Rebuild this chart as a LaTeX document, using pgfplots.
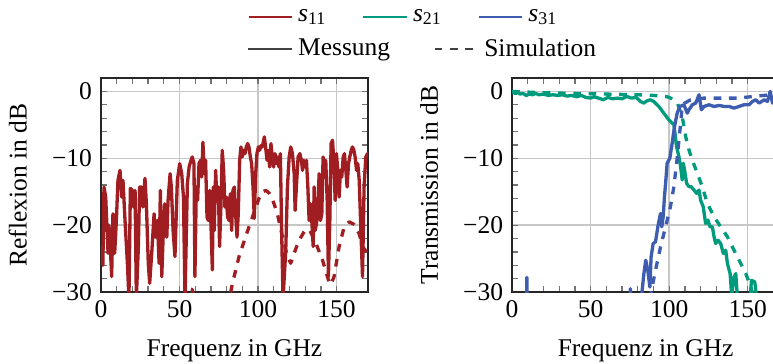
\documentclass[border=0pt]{standalone}
\usepackage{fontspec}
\setmainfont{Liberation Serif}
\usepackage{pgfplots}
\pgfplotsset{compat=1.18}

\definecolor{cRed}{RGB}{160,30,34}
\definecolor{cTeal}{RGB}{0,155,125}
\definecolor{cBlue}{RGB}{63,93,176}

\pgfplotsset{
  sparam/.style={
    scale only axis,
    width=104.7pt, height=83.9pt,
    xmin=0, xmax=170, ymin=-30, ymax=2,
    xtick={0,50,100,150},
    ytick={-30,-20,-10,0},
    yticklabels={−30,−20,−10,0},
    minor x tick num=4, minor y tick num=4,
    grid=major,
    major grid style={black!22, line width=0.6pt},
    axis line style={black!85, line width=0.9pt},
    tick style={black!55, line width=0.5pt},
    major tick length=2.5pt, minor tick length=2.5pt,
    /pgf/number format/assume math mode=true,
    xlabel={Frequenz in GHz},
    xlabel shift=1.5pt, ylabel shift=3pt,
    every axis plot/.append style={line width=1.3pt, line join=round},
    legend image post style={line width=0.8pt},
  },
}

\begin{document}
\begin{tikzpicture}
% --- Reflexion ---
\begin{axis}[sparam,
  ylabel={Reflexion in dB},
  legend columns=3,
  legend style={draw=none, fill=none, inner sep=0pt, anchor=west,
    at={(0.547,1.285)},
    /tikz/every even column/.append style={column sep=12pt}},
]
\addplot[cRed] coordinates {
(0,-25) (0.5,-23.2) (1.2,-26) (1.9,-14.3) (3,-15.8) (4.5,-24.2) (5,-20) (6.2,-24.7)
(6.8,-27.7) (7.6,-18.3) (8.7,-24.2) (9.8,-19.3) (10.8,-13.3) (12.1,-11.8) (13.2,-15.8)
(14,-13.3) (15.3,-19.3) (16.8,-25.7) (17.8,-31) (18.7,-14.5) (20,-14.8) (20.8,-17.3)
(21.7,-14.8) (22.5,-31) (23.8,-23.2) (24.6,-14.3) (25.9,-14.3) (26.7,-17.3) (28,-13)
(28.9,-16.8) (30.1,-25.7) (31,-28.7) (32.3,-24.2) (33.8,-18.3) (34.8,-21.8) (35.9,-19.3)
(37,-25.7) (37.8,-14.8) (38.7,-27.7) (39.7,-20.8) (40.6,-16.8) (41.9,-21.8) (42.7,-16.3)
(44,-12.3) (44.8,-14.3) (45.9,-20.8) (47.1,-24.7) (48.6,-13.3) (50.1,-10.8) (51.4,-12.3)
(52.5,-15.8) (53.5,-31) (55,-13.8) (56.1,-11.3) (57.3,-10.3) (58.1,-9.8) (59.2,-10.8)
(59.8,-27.7) (60.7,-14.3) (61.5,-16.3) (62.4,-10.8) (63.4,-10.3) (64.1,-12.8) (64.9,-7.6)
(65.8,-12.3) (66.6,-10.3) (67.5,-18.8) (68.3,-19.3) (69.2,-14.8) (70,-19.8) (70.9,-26.7)
(71.5,-14.3) (72.1,-20.8) (73,-11.8) (73.8,-16.3) (74.7,-14.3) (75.5,-23.2) (76.4,-16.8)
(77.2,-8.8) (78.1,-11.8) (78.9,-17.3) (79.8,-15.8) (80.6,-18.8) (81.5,-19.3) (82.3,-15.3)
(83.2,-20.8) (84,-14.8) (84.9,-14.3) (85.7,-18.3) (86.6,-21.8) (87.4,-18.3) (88.3,-10.3)
(89.1,-8.3) (90,-9.8) (90.8,-8.8) (91.7,-9.3) (92.5,-8.3) (93.4,-7.8) (94.2,-8.3)
(95.1,-9.8) (95.9,-10.8) (96.8,-14.3) (97.6,-19) (98.5,-12.3) (99.3,-9.3) (100.2,-8.3)
(101,-8.8) (101.9,-8.1) (102.7,-8.3) (104,-6.8) (104.8,-8.3) (105.7,-10.3) (106.5,-8.8)
(107.4,-11.3) (108.2,-7.8) (109.1,-9.8) (109.9,-11.3) (110.8,-9.3) (111.6,-10.8)
(112.5,-9.8) (113.3,-11.3) (114.2,-9.3) (115,-20.8) (115.9,-31) (117.6,-24) (118.7,-14.3)
(119.8,-9.8) (120.8,-8.3) (121.9,-9.3) (123,-12.3) (123.6,-17.8) (124.4,-14.3) (125.5,-9.8)
(126.6,-9.3) (127.6,-10.3) (128.3,-11.8) (129.1,-10.3) (130,-11.3) (130.8,-10.3)
(131.7,-14.3) (132.5,-19.3) (133.4,-16.8) (134.2,-19.3) (135.1,-23.2) (135.7,-14.3)
(136.3,-20.8) (137.2,-19.8) (138,-17.3) (138.9,-12.3) (139.7,-19.3) (140.6,-18.3)
(141.4,-9.8) (142.3,-11.3) (143.1,-10.3) (144,-16.3) (144.8,-27.7) (145.7,-19.3)
(146.5,-7.8) (147.4,-7.3) (148.2,-10.3) (149.1,-16.3) (149.9,-9.3) (150.8,-11.8)
(151.6,-15.8) (152.5,-11.8) (153.3,-12.8) (154.2,-9.8) (155,-9.3) (155.9,-11.8)
(156.7,-14.3) (157.6,-10.8) (158.4,-9.8) (159.3,-8.8) (160.1,-8.3) (161,-8.8) (161.8,-9.8)
(162.7,-11.8) (163.5,-10.8) (164.4,-13.3) (165.4,-20.3) (166.5,-27.7) (167.5,-14.3)
(168.6,-9.8) (169.7,-9.3) (170,-9.5)
};
\addlegendentry{\textit{s}\textsubscript{11}}
\addplot[cRed, dashed, forget plot] coordinates {
(50,-36) (56,-29.6) (58,-29.6) (64,-36) (78,-36) (82.6,-30) (83.7,-28.7) (87.9,-24.7)
(92.1,-21.7) (96.4,-18.8) (100.6,-16) (103,-15) (105,-14.8) (107,-15.2) (109,-16)
(112.3,-18.3) (115.5,-21.7) (118.7,-24.7) (120.8,-25.7) (123,-24.2) (126,-22.3)
(129.3,-21) (131,-20.6) (133,-20.8) (136.8,-22.7) (141,-25.2) (144.8,-28.2) (146.3,-28.9)
(148.4,-27.7) (151.6,-23.2) (154.8,-20.3) (158,-19.5) (161.2,-19.9) (164.4,-21.3)
(166.5,-23.2) (169,-24) (170,-24.3)
};
\addlegendimage{cTeal}
\addlegendentry{\textit{s}\textsubscript{21}}
\addlegendimage{cBlue}
\addlegendentry{\textit{s}\textsubscript{31}}
\end{axis}

% --- Transmission ---
\begin{axis}[sparam, at={(161.2pt,0pt)},
  ylabel={Transmission in dB},
  legend columns=2,
  legend style={draw=none, fill=none, inner sep=0pt, anchor=west,
    at={(-0.993,1.135)},
    /tikz/every even column/.append style={column sep=15pt}},
]
\addplot[cTeal, forget plot] coordinates {
(0,0) (2,-0.3) (4,-0.2) (5,-0.4) (7,-0.3) (9,-0.6) (11,-0.4) (13,-0.5) (15,-0.3)
(17,-0.5) (20,-0.4) (23,-0.6) (26,-0.5) (29,-0.6) (32,-0.5) (35,-0.7) (38,-0.6) (41,-0.8)
(44,-0.6) (47,-0.9) (50,-1) (52,-0.8) (55,-1) (58,-1.25) (61,-0.9) (64,-1.1) (67,-1)
(70,-1.1) (73,-0.75) (76,-1) (79,-0.9) (81.7,-1.5) (83.8,-1.75) (86,-1.4) (88.1,-1.25)
(90.2,-1.5) (93.4,-2.25) (96.6,-3.25) (99.8,-4.25) (101.9,-4.75) (103,-4.9) (104.7,-8.25)
(106.2,-9.75) (107.3,-11.25) (108.3,-13.25) (109,-10.75) (109.8,-11.75) (111.1,-13.75)
(112.6,-14.25) (114.1,-14.25) (115.8,-14.75) (117.5,-15.25) (119,-14.75) (120,-16.25)
(121.7,-17.25) (123.2,-19.75) (124.7,-19.25) (126,-20.25) (127.5,-20.25) (128.6,-21.75)
(129.6,-22.75) (131.1,-22.25) (132.8,-22.75) (134.5,-24.25) (136,-23.75) (137.1,-25.75)
(138.8,-27.25) (139.8,-30.5) (141.3,-27.75) (142.4,-27.25) (143.5,-31) (151.5,-31)
(152.4,-28.25) (154.5,-28.5) (155.8,-31)
};
\addplot[cTeal, dashed, forget plot] coordinates {
(0,0) (20,-0.2) (40,-0.3) (60,-0.4) (80,-0.5) (90,-0.6) (95,-0.7) (98.7,-0.8) (101,-1)
(105.2,-1.75) (108.3,-3.75) (110.5,-6.75) (112.6,-8.75) (114.7,-10.25) (117.9,-12.25)
(121.1,-14.25) (124.3,-16.75) (128.6,-18.75) (132.8,-20.25) (137.1,-21.75) (141.3,-23.75)
(145.6,-25.75) (148.8,-27.25) (152,-29.25) (154,-31)
};
\addplot[cBlue, forget plot] coordinates {
(0,-35) (9.0,-35) (9.4,-27.8) (9.8,-35) (74.5,-35) (75.3,-29.5) (76,-35) (82.5,-31)
(82.8,-29.75) (83.9,-27.25) (85.1,-25.25) (86.4,-26.75) (87.7,-29.25) (88.5,-24.75)
(89.8,-22.75) (91.3,-22.5) (92.8,-20.25) (93.6,-19.25) (94.5,-18.25) (95.3,-20.25)
(96.2,-18.75) (97,-15.75) (97.9,-13.25) (98.7,-10.75) (100.4,-10) (101.9,-7.75)
(103.4,-5.25) (105.1,-3.25) (106.8,-2.25) (109.4,-2) (111.5,-3.25) (112.6,-2.75)
(114.7,-2) (116.9,-1.75) (119,-0.5) (120.5,-2.75) (122.2,-2.25) (125.4,-2) (128.6,-2.25)
(131.8,-2.1) (135,-2.25) (138.2,-2.25) (141.3,-2.5) (144.5,-2.25) (147.7,-2) (150.9,-2)
(153,-1.5) (155.2,-1.25) (157.3,-1.75) (158.8,-1.5) (160.5,-1.25) (162.6,-1.5)
(164.3,0) (165.8,-1.75) (168,-1.2) (170,-1.5)
};
\addplot[cBlue, dashed, forget plot] coordinates {
(80,-40) (88.5,-30) (91.3,-26.75) (94.5,-23.25) (97.7,-20.25) (100.8,-17.25) (103,-14.25)
(105.2,-9.75) (107.3,-4.75) (108.3,-2.25) (109.8,-1.75) (113.7,-1.25) (122.2,-1)
(143.5,-1) (154,-0.75) (164.7,-0.5) (170,-0.5)
};
\addlegendimage{black!75}
\addlegendentry{Messung}
\addlegendimage{black!75, dashed}
\addlegendentry{Simulation}
\end{axis}

\pgfresetboundingbox
\path (-39.6pt,-28.2pt) rectangle (263.5pt,114.5pt);
\end{tikzpicture}
\end{document}
